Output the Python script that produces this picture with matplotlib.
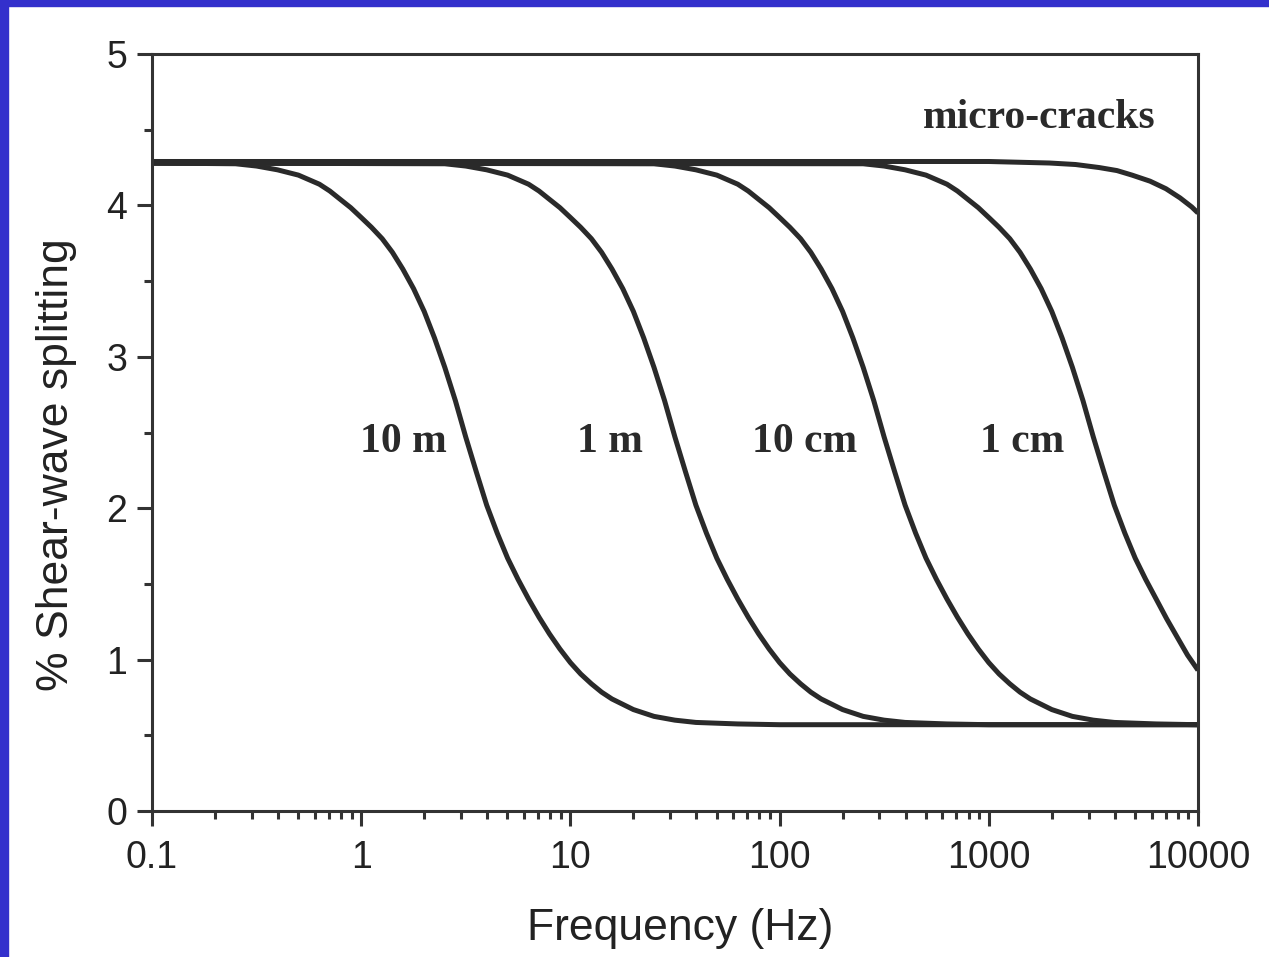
import numpy as np
import matplotlib.pyplot as plt
from matplotlib.patches import Rectangle
from matplotlib.ticker import LogLocator, FixedLocator, MultipleLocator, FixedFormatter

# curves: frequency (Hz) and % shear-wave splitting
freq_10m = [0.1, 0.251, 0.316, 0.398, 0.501, 0.631, 0.708, 0.794, 0.891, 1.0, 1.12, 1.26, 1.41, 1.58,
            1.78, 2.0, 2.24, 2.51, 2.82, 3.16, 3.55, 3.98, 4.47, 5.01, 5.62, 6.31, 7.08, 7.94, 8.91,
            10.0, 11.2, 12.6, 14.1, 15.8, 20.0, 25.1, 31.6, 39.8, 63.1, 100, 10000]
split_10m = [4.28, 4.275, 4.26, 4.235, 4.20, 4.14, 4.095, 4.04, 3.985, 3.92, 3.855, 3.78, 3.69, 3.58,
             3.45, 3.30, 3.125, 2.93, 2.71, 2.47, 2.24, 2.02, 1.835, 1.67, 1.53, 1.40, 1.28, 1.17, 1.07,
             0.98, 0.905, 0.84, 0.785, 0.74, 0.67, 0.625, 0.60, 0.585, 0.575, 0.57, 0.57]

freq_1m = [0.1, 2.51, 3.16, 3.98, 5.01, 6.31, 7.08, 7.94, 8.91, 10.0, 11.2, 12.6, 14.1, 15.8,
           17.8, 20.0, 22.4, 25.1, 28.2, 31.6, 35.5, 39.8, 44.7, 50.1, 56.2, 63.1, 70.8, 79.4, 89.1,
           100, 112, 126, 141, 158, 200, 251, 316, 398, 631, 1000, 10000]
split_1m = [4.28, 4.275, 4.26, 4.235, 4.20, 4.14, 4.095, 4.04, 3.985, 3.92, 3.855, 3.78, 3.69, 3.58,
            3.45, 3.30, 3.125, 2.93, 2.71, 2.47, 2.24, 2.02, 1.835, 1.67, 1.53, 1.40, 1.28, 1.17, 1.07,
            0.98, 0.905, 0.84, 0.785, 0.74, 0.67, 0.625, 0.60, 0.585, 0.575, 0.57, 0.57]

freq_10cm = [0.1, 25.1, 31.6, 39.8, 50.1, 63.1, 70.8, 79.4, 89.1, 100, 112, 126, 141, 158,
             178, 200, 224, 251, 282, 316, 355, 398, 447, 501, 562, 631, 708, 794, 891,
             1000, 1120, 1260, 1410, 1580, 2000, 2510, 3160, 3980, 6310, 10000]
split_10cm = [4.28, 4.275, 4.26, 4.235, 4.20, 4.14, 4.095, 4.04, 3.985, 3.92, 3.855, 3.78, 3.69, 3.58,
              3.45, 3.30, 3.125, 2.93, 2.71, 2.47, 2.24, 2.02, 1.835, 1.67, 1.53, 1.40, 1.28, 1.17, 1.07,
              0.98, 0.905, 0.84, 0.785, 0.74, 0.67, 0.625, 0.60, 0.585, 0.575, 0.57]

freq_1cm = [0.1, 251, 316, 398, 501, 631, 708, 794, 891, 1000, 1120, 1260, 1410, 1580,
            1780, 2000, 2240, 2510, 2820, 3160, 3550, 3980, 4470, 5010, 5620, 6310, 7080, 7940, 8910,
            10000]
split_1cm = [4.28, 4.275, 4.26, 4.235, 4.20, 4.14, 4.095, 4.04, 3.985, 3.92, 3.855, 3.78, 3.69, 3.58,
             3.45, 3.30, 3.125, 2.93, 2.71, 2.47, 2.24, 2.02, 1.835, 1.67, 1.53, 1.40, 1.27, 1.15, 1.03,
             0.93]

freq_micro = [0.1, 1000, 1950, 2600, 3370, 4100, 4840, 5900, 7030, 8200, 9330, 10000]
split_micro = [4.29, 4.29, 4.28, 4.27, 4.25, 4.23, 4.20, 4.16, 4.11, 4.05, 3.99, 3.95]

labels = ['10 m', '1 m', '10 cm', '1 cm', 'micro-cracks']
label_x = [1.6, 15.5, 131, 1450, 1740]
label_y = [2.37, 2.37, 2.37, 2.37, 4.51]

xticks = [0.1, 1, 10, 100, 1000, 10000]
xtick_labels = ['0.1', '1', '10', '100', '1000', '10000']

line_col = '#2a2a2a'

fig = plt.figure(figsize=(12.69, 9.57), dpi=100)
fig.patch.set_facecolor('white')
# blue frame of the slide (top and left edges only)
fig.patches.append(Rectangle((0, 0), 8 / 1269, 1, transform=fig.transFigure, color='#3330CC', zorder=10))
fig.patches.append(Rectangle((0, 1 - 6 / 957), 1, 6 / 957, transform=fig.transFigure, color='#3330CC', zorder=10))

ax = fig.add_axes([152 / 1269, 1 - 811 / 957, 1046 / 1269, 757 / 957])

for f, s in [(freq_10m, split_10m), (freq_1m, split_1m), (freq_10cm, split_10cm),
             (freq_1cm, split_1cm), (freq_micro, split_micro)]:
    ax.plot(f, s, color=line_col, lw=3.6, solid_joinstyle='round', solid_capstyle='butt')

ax.set_xscale('log')
ax.set_xlim(0.1, 10000)
ax.set_ylim(0, 5)

ax.xaxis.set_major_locator(FixedLocator(xticks))
ax.xaxis.set_major_formatter(FixedFormatter(xtick_labels))
ax.xaxis.set_minor_locator(LogLocator(base=10, subs=np.arange(2, 10)))
ax.xaxis.set_minor_formatter(FixedFormatter([]))
ax.yaxis.set_major_locator(MultipleLocator(1))
ax.yaxis.set_minor_locator(MultipleLocator(0.5))

ax.tick_params(which='both', direction='out', color='#333333', top=False, right=False)
ax.tick_params(which='major', length=11, width=2.2, labelsize=27, colors='#333333', labelcolor='#222222')
ax.tick_params(which='minor', length=6, width=2.2)
ax.tick_params(axis='x', which='major', pad=10)
ax.tick_params(axis='y', which='major', pad=7)
for lab in ax.get_xticklabels() + ax.get_yticklabels():
    lab.set_family('Liberation Sans')

for sp in ax.spines.values():
    sp.set_linewidth(2.2)
    sp.set_color('#333333')

ax.set_xlabel('Frequency (Hz)', fontsize=32, family='Liberation Sans', color='#222222')
ax.set_ylabel('% Shear-wave splitting', fontsize=32, family='Liberation Sans', color='#222222')
ax.xaxis.set_label_coords(0.505, -0.128)
ax.yaxis.set_label_coords(-0.072, 0.458)

for t, x, y in zip(labels, label_x, label_y):
    ax.text(x, y, t, fontsize=30, fontweight='bold', family='Liberation Serif',
            color='#2a2a2a', ha='center', va='baseline')

fig.savefig('out.png', dpi=100)
